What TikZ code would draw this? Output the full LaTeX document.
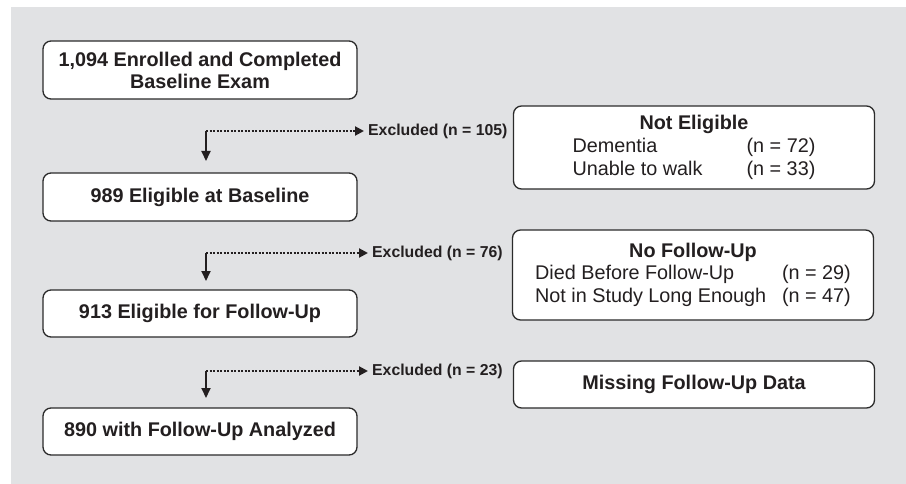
\documentclass[tikz,border=0pt]{standalone}
\usepackage{fontspec}
\setmainfont{Liberation Sans}
\usetikzlibrary{arrows.meta}
\definecolor{bggray}{HTML}{E1E2E4}
\definecolor{edge}{HTML}{2B2B2B}
\definecolor{ink}{HTML}{231F20}
\begin{document}
\begin{tikzpicture}[x=1pt,y=-1pt,
  box/.style={draw=edge,line width=1.3pt,fill=white,rounded corners=8pt,inner sep=0pt,align=center,text=ink,
    font=\fontsize{19.8}{22}\selectfont\bfseries,minimum width=314pt},
  rbox/.style={draw=edge,line width=1.3pt,fill=white,rounded corners=8pt,inner sep=0pt,align=center,text=ink,
    font=\fontsize{19.8}{23}\selectfont,minimum width=361pt},
  lbl/.style={font=\fontsize{15.8}{18}\selectfont\bfseries,anchor=west,inner sep=0pt,text=ink},
  dots/.style={draw=ink,line width=2pt,dash pattern=on 2pt off 1.5pt,shorten >=4pt,-{Triangle[length=9pt,width=9pt]}},
  down/.style={draw=ink,line width=2pt,-{Triangle[length=10pt,width=9pt]}}]
\useasboundingbox (0,0) rectangle (906,484);
\fill[bggray] (11,7) rectangle (906,484);

% left column
\node[box,minimum height=58pt] (b1) at (200,70) {1,094 Enrolled and Completed\\Baseline Exam};
\node[box,minimum height=48pt] (b2) at (200,197) {989 Eligible at Baseline};
\node[box,minimum height=47pt] (b3) at (200,313.5) {913 Eligible for Follow-Up};
\node[box,minimum height=47pt] (b4) at (200,431.5) {890 with Follow-Up Analyzed};

% right column
\node[rbox,minimum height=83pt] (r1) at (694,147.5) {%
  \begin{tabular}{@{}p{174pt}@{}l@{}}\multicolumn{2}{c}{\bfseries Not Eligible}\\
  Dementia & (n = 72)\\ Unable to walk & (n = 33)\end{tabular}};
\node[rbox,minimum height=90pt] (r2) at (693,275) {%
  \begin{tabular}{@{}p{247pt}@{}l@{}}\multicolumn{2}{c}{\bfseries No Follow-Up}\\[-0.5pt]
  Died Before Follow-Up & (n = 29)\\[-0.5pt] Not in Study Long Enough & (n = 47)\end{tabular}};
\node[rbox,minimum height=47pt,font=\fontsize{19.8}{23}\selectfont\bfseries] (r3) at (694,384.5) {Missing Follow-Up Data};

% exclusion labels
\node[lbl] (e1) at (368,131) {Excluded (n = 105)};
\node[lbl] (e2) at (372,253) {Excluded (n = 76)};
\node[lbl] (e3) at (372,371) {Excluded (n = 23)};

% connectors
\coordinate (c1) at (206,131); \coordinate (d1) at (206,161);
\coordinate (c2) at (206,253); \coordinate (d2) at (206,281);
\coordinate (c3) at (206,371); \coordinate (d3) at (206,398);
\draw[dots] (c1) -- (e1.west);
\draw[dots] (c2) -- (e2.west);
\draw[dots] (c3) -- (e3.west);
\draw[down] (c1) -- (d1);
\draw[down] (c2) -- (d2);
\draw[down] (c3) -- (d3);
\end{tikzpicture}
\end{document}
